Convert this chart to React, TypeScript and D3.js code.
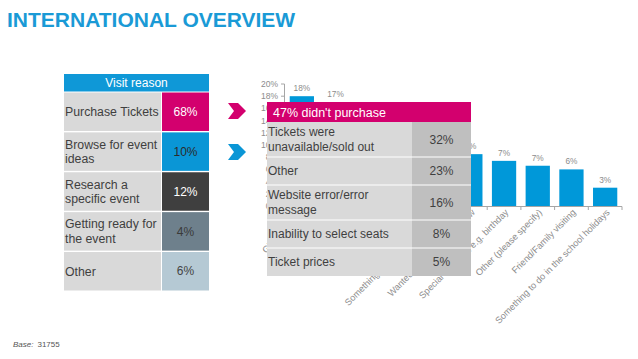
import React from "react";
import * as d3 from "d3";

// ---------- data ----------
const titleText = "INTERNATIONAL OVERVIEW";

const reasonHeader = "Visit reason";
const reasonLabels: string[][] = [
  ["Purchase Tickets"],
  ["Browse for event", "ideas"],
  ["Research a", "specific event"],
  ["Getting ready for", "the event"],
  ["Other"],
];
const reasonValues = [68, 10, 12, 4, 6];

const barCategories = [
  "Gig or concert",
  "Sporting event",
  "Theatre/Show",
  "Family day out",
  "Something to do at the weekend",
  "Wanted to try something new",
  "Special occasion e.g. birthday",
  "Other (please specify)",
  "Friend/Family visiting",
  "Something to do in the school holidays",
];
const barValues = [18, 17, 13, 11, 10, 8.5, 7.4, 6.6, 6, 3];
const yTicks = [0, 2, 4, 6, 8, 10, 12, 14, 16, 18, 20];

const popupHeader = "47% didn't purchase";
const popupLabels: string[][] = [
  ["Tickets were", "unavailable/sold out"],
  ["Other"],
  ["Website error/error", "message"],
  ["Inability to select seats"],
  ["Ticket prices"],
];
const popupValues = [32, 23, 16, 8, 5];

const baseLabel = "Base:";
const baseValue = "31755";

// ---------- styles ----------
const FONT = "'Liberation Sans', Arial, sans-serif";
const BLUE = "#0f98d7";
const MAGENTA = "#d3006e";
const CELL_GRAY = "#d9d9d9";
const VALUE_GRAY = "#bfbfbf";
const TEXT_DARK = "#3f3f3f";
const AXIS_GRAY = "#8c8c8c";
const reasonColors = [MAGENTA, "#0a96d6", "#3f3f3f", "#6e808c", "#b5c9d4"];
const reasonTextColors = ["#ffffff", "#2b2b2b", "#ffffff", "#3a3a3a", "#444444"];

export default function App() {
  // left table
  const tx0 = 64, tLabelW = 97, tValW = 47;
  const rowBand = d3
    .scaleBand<number>()
    .domain(d3.range(reasonValues.length))
    .range([92.5, 290.5])
    .paddingInner(0.035);

  // bar chart
  const x = d3.scaleBand<number>().domain(d3.range(barValues.length)).range([285, 622]).paddingInner(0.28).paddingOuter(0.14);
  const y = d3.scaleLinear().domain([0, 20]).range([206, 84]);
  const step = x.step();
  const boundaries = d3.range(barValues.length + 1).map((i) => 285 + i * step);

  // popup
  const px0 = 267, pLabelW = 145, pValW = 59;
  const pHeaderTop = 102, pHeaderH = 20;
  const rowHeights = popupLabels.map((l) => (l.length > 1 ? 35 : 28));
  const rowTops: number[] = [];
  rowHeights.reduce((acc, h) => {
    rowTops.push(acc);
    return acc + h;
  }, pHeaderTop + pHeaderH);

  const chevron = (cx: number, cy: number) => {
    const pts = [
      [cx - 9, cy - 8],
      [cx + 1, cy - 8],
      [cx + 9, cy],
      [cx + 1, cy + 8],
      [cx - 9, cy + 8],
      [cx - 3, cy],
    ];
    return pts.map((p) => p.join(",")).join(" ");
  };

  return (
    <svg width={638} height={359} style={{ position: "absolute", left: 0, top: 0, background: "#fff" }} fontFamily={FONT}>
      <rect x={0} y={0} width={638} height={359} fill="#ffffff" />
      {/* title */}
      <text x={7} y={27} fontSize={21} fontWeight="bold" fill="#1a9ad6">
        {titleText}
      </text>

      {/* left table */}
      <rect x={tx0} y={74} width={tLabelW + tValW + 1} height={17.5} fill={BLUE} />
      <text x={tx0 + (tLabelW + tValW + 1) / 2} y={86.5} fontSize={12} fill="#ffffff" textAnchor="middle">
        {reasonHeader}
      </text>
      {reasonValues.map((v, i) => {
        const top = rowBand(i)!;
        const h = rowBand.bandwidth();
        const cy = top + h / 2;
        const lines = reasonLabels[i];
        return (
          <g key={"r" + i}>
            <rect x={tx0} y={top} width={tLabelW} height={h} fill={CELL_GRAY} />
            <rect x={tx0 + tLabelW + 1} y={top} width={tValW} height={h} fill={reasonColors[i]} />
            {lines.map((ln, j) => (
              <text key={j} x={tx0 + 1} y={cy + (j - (lines.length - 1) / 2) * 14.5 + 4.3} fontSize={12.3} fill={TEXT_DARK}>
                {ln}
              </text>
            ))}
            <text x={tx0 + tLabelW + 1 + tValW / 2} y={cy + 4.2} fontSize={12} fill={reasonTextColors[i]} textAnchor="middle">
              {v + "%"}
            </text>
          </g>
        );
      })}

      {/* chevrons */}
      <polygon points={chevron(237, 111)} fill={MAGENTA} />
      <polygon points={chevron(237, 152)} fill="#0a96d6" />

      {/* bar chart: y axis */}
      <line x1={284.5} x2={284.5} y1={y(20)} y2={y(0)} stroke="#a6a6a6" strokeWidth={1} />
      {yTicks.map((t) => (
        <g key={"yt" + t}>
          <line x1={281} x2={284.5} y1={y(t)} y2={y(t)} stroke="#a6a6a6" strokeWidth={1} />
          <text x={278} y={y(t) + 3} fontSize={8.5} fill={AXIS_GRAY} textAnchor="end">
            {t + "%"}
          </text>
        </g>
      ))}
      {/* bars */}
      {barValues.map((v, i) => (
        <g key={"b" + i}>
          <rect x={x(i)!} y={y(v)} width={x.bandwidth()} height={y(0) - y(v)} fill="#0098d9" />
          <text x={x(i)! + x.bandwidth() / 2} y={y(v) - 5} fontSize={8.3} fill={AXIS_GRAY} textAnchor="middle">
            {Math.round(v) + "%"}
          </text>
        </g>
      ))}
      {/* x axis */}
      <line x1={284.5} x2={622} y1={206.5} y2={206.5} stroke="#a6a6a6" strokeWidth={1} />
      {boundaries.map((b, i) => (
        <line key={"xt" + i} x1={b} x2={b} y1={206.5} y2={210} stroke="#a6a6a6" strokeWidth={1} />
      ))}
      {barCategories.map((c, i) => {
        const cx = x(i)! + x.bandwidth() / 2 + 5;
        const cy = 213;
        return (
          <text key={"xl" + i} x={0} y={0} transform={`translate(${cx},${cy}) rotate(-45)`} fontSize={9.2} fill={AXIS_GRAY} textAnchor="end">
            {c}
          </text>
        );
      })}

      {/* popup */}
      <rect x={px0} y={pHeaderTop} width={pLabelW + pValW} height={pHeaderH} fill={MAGENTA} />
      <text x={px0 + 6} y={pHeaderTop + 14.5} fontSize={12.5} fill="#ffffff">
        {popupHeader}
      </text>
      {popupValues.map((v, i) => {
        const top = rowTops[i];
        const h = rowHeights[i];
        const cy = top + h / 2;
        const lines = popupLabels[i];
        return (
          <g key={"p" + i}>
            <rect x={px0} y={top} width={pLabelW} height={h} fill={CELL_GRAY} />
            <rect x={px0 + pLabelW} y={top} width={pValW} height={h} fill={VALUE_GRAY} />
            {i > 0 && <line x1={px0} x2={px0 + pLabelW + pValW} y1={top} y2={top} stroke="#ffffff" strokeWidth={1} />}
            {lines.map((ln, j) => (
              <text key={j} x={px0 + 1} y={cy + (j - (lines.length - 1) / 2) * 15 + 4.3} fontSize={12} fill={TEXT_DARK}>
                {ln}
              </text>
            ))}
            <text x={px0 + pLabelW + pValW / 2} y={cy + 4.3} fontSize={12} fill={TEXT_DARK} textAnchor="middle">
              {v + "%"}
            </text>
          </g>
        );
      })}

      {/* base */}
      <text x={13} y={347} fontSize={8} fill="#555555">
        <tspan fontStyle="italic">{baseLabel}</tspan>
        <tspan dx={4}>{baseValue}</tspan>
      </text>
    </svg>
  );
}
